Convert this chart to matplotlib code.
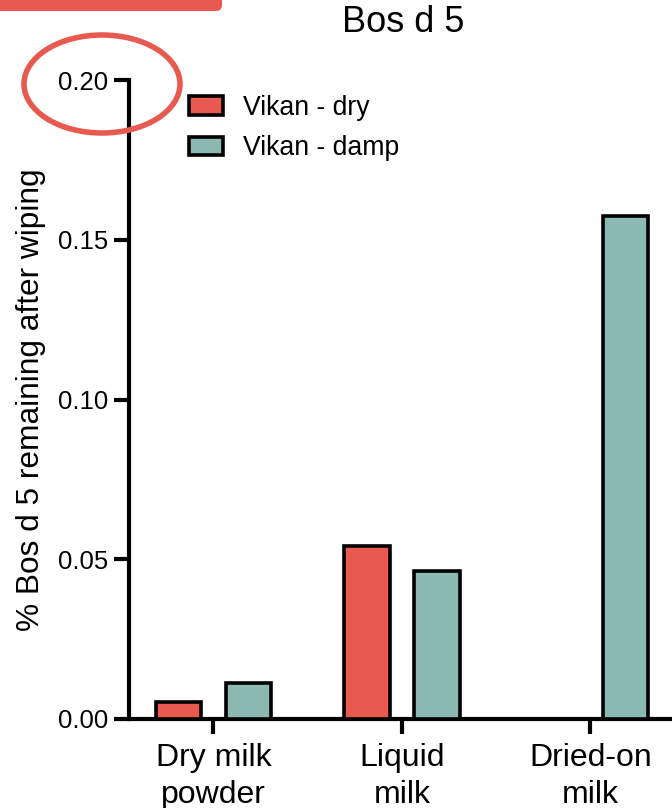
import matplotlib
matplotlib.use("Agg")
import matplotlib.pyplot as plt
from matplotlib.patches import Ellipse, FancyBboxPatch
import numpy as np

plt.rcParams['font.family'] = ['Liberation Sans', 'DejaVu Sans']

categories = ["Dry milk\npowder", "Liquid\nmilk", "Dried-on\nmilk"]
series_names = ["Vikan - dry", "Vikan - damp"]
vikan_dry = [0.0054, 0.0543, 0.0]
vikan_damp = [0.0113, 0.0464, 0.1574]
yticks = [0.00, 0.05, 0.10, 0.15, 0.20]
colors = ["#E85A50", "#8BB8B1"]

W, H = 672, 808
fig = plt.figure(figsize=(W / 100, H / 100), dpi=100)
ax = fig.add_axes([128.6 / W, 89 / H, (675.3 - 128.6) / W, (719 - 80) / H])

x = np.arange(len(categories))
bw = 0.24
off = 0.186
for vals, o, c, name in [(vikan_dry, -off, colors[0], series_names[0]),
                         (vikan_damp, off, colors[1], series_names[1])]:
    ax.bar(x + o, vals, width=bw, color=c, edgecolor="black", linewidth=2.6,
           label=name, zorder=3)

ax.set_xlim(-0.45, 2.45)
ax.set_ylim(0, 0.20)
ax.set_yticks(yticks)
ax.set_yticklabels([f"{v:.2f}" for v in yticks], fontsize=18.5)
ax.set_xticks(x)
ax.set_xticklabels(categories, fontsize=23, linespacing=1.3)
ax.tick_params(axis="both", width=3, length=11, color="black", pad=6)
ax.tick_params(axis="y", pad=4)
for s in ["top", "right"]:
    ax.spines[s].set_visible(False)
for s in ["left", "bottom"]:
    ax.spines[s].set_linewidth(3)
ax.spines["left"].set_capstyle("projecting")

ax.set_ylabel("% Bos d 5 remaining after wiping", fontsize=22.8, labelpad=8)

leg = ax.legend(loc="upper left", bbox_to_anchor=(178 / W, 1 - 84 / H),
                bbox_transform=fig.transFigure, frameon=False, fontsize=19.2,
                handlelength=1.3, handleheight=0.7, handletextpad=0.75,
                labelspacing=0.55, borderaxespad=0)
for p in leg.get_patches():
    p.set_linewidth(2.6)

fig.text(403 / W, 1 - 23 / H, "Bos d 5", ha="center", va="center", fontsize=26)

# annotation decorations
ell = Ellipse((102 / W, 1 - 84 / H), 156 / W, 98 / H, transform=fig.transFigure,
              fill=False, edgecolor="#E85A50", linewidth=4)
fig.add_artist(ell)
bar = FancyBboxPatch((-20 / W, 1 - 11 / H), 242 / W, 30 / H,
                     boxstyle="round,pad=0,rounding_size=0.008",
                     transform=fig.transFigure, facecolor="#E85A50",
                     edgecolor="none", clip_on=False)
fig.add_artist(bar)

fig.savefig("out.png", dpi=100)
